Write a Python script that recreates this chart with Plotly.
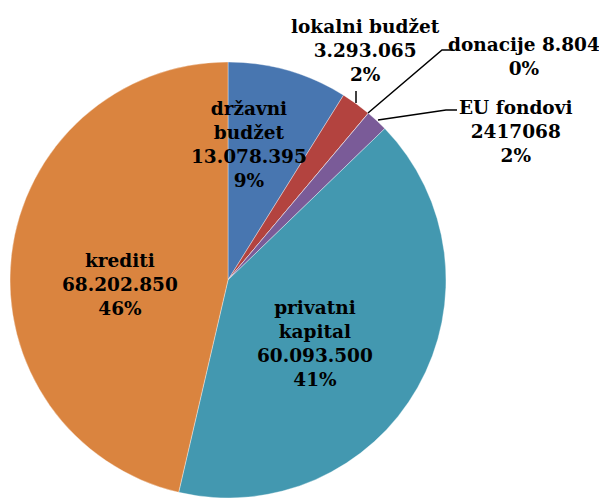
import plotly.graph_objects as go

# podaci
izvori = ["državni budžet", "lokalni budžet", "donacije", "EU fondovi", "privatni kapital", "krediti"]
iznosi = [13078395, 3293065, 8804, 2417068, 60093500, 68202850]
iznosi_tekst = ["13.078.395", "3.293.065", "8.804", "2417068", "60.093.500", "68.202.850"]
postoci = ["9%", "2%", "0%", "2%", "41%", "46%"]
boje = ["#4876b0", "#b3433f", "#93b150", "#7a5b98", "#4398b0", "#da843f"]

W, H = 607, 499
POMAK = 8  # body margin stranice


def px(x, y):
    return (x - POMAK) / W, 1 - (y - POMAK) / H


fig = go.Figure()

# krug: centar (228, 280), polumjer 218 u pikselima stranice
x0, y1 = px(10, 62)
x1, y0 = px(446, 498)
fig.add_trace(go.Pie(
    labels=izvori,
    values=iznosi,
    sort=False,
    direction="clockwise",
    rotation=0,
    textinfo="none",
    marker=dict(colors=boje, line=dict(color="rgba(255,255,255,0.6)", width=0.6)),
    domain=dict(x=[x0, x1], y=[y0, y1]),
    showlegend=False,
))

# tekst oznaka: (redoslijed, x, y, format)
oznake = [
    (0, 249, 145, "državni<br>budžet<br>{v}<br>{p}"),
    (1, 365, 51, "{l}<br>{v}<br>{p}"),
    (2, 524, 57, "{l} {v}<br>{p}"),
    (3, 515, 131, "EU fondovi<br>{v}<br>{p}"),
    (4, 315, 343, "privatni<br>kapital<br>{v}<br>{p}"),
    (5, 120, 284, "{l}<br>{v}<br>{p}"),
]
for i, x, y, fmt in oznake:
    ax_, ay_ = px(x, y)
    fig.add_annotation(
        x=ax_, y=ay_, xref="paper", yref="paper",
        text=fmt.format(l=izvori[i], v=iznosi_tekst[i], p=postoci[i]),
        showarrow=False, xanchor="center", yanchor="middle",
        font=dict(family="DejaVu Serif", size=18.5, color="black", weight="bold"),
    )

# linije do malih isječaka
linije = [
    [(356, 91), (356, 103)],
    [(368, 113), (442, 50), (453, 50)],
    [(378, 120), (446, 110), (457, 110)],
]
for pts in linije:
    p = [px(*t) for t in pts]
    path = "M " + " L ".join(f"{a},{b}" for a, b in p)
    fig.add_shape(type="path", path=path, xref="paper", yref="paper",
                  line=dict(color="black", width=1.5))

fig.update_layout(
    width=W, height=H,
    margin=dict(l=0, r=0, t=0, b=0),
    paper_bgcolor="white",
    plot_bgcolor="white",
)

fig.write_html("out.html")
